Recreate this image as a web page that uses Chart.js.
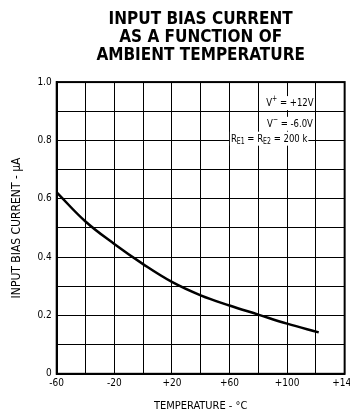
<!DOCTYPE html>
<html><head><meta charset="utf-8">
<script src="https://cdn.jsdelivr.net/npm/chart.js@4/dist/chart.umd.min.js"></script>
<style>html,body{margin:0;padding:0;background:#fff;overflow:hidden}#wrap{width:350px;height:410px;overflow:hidden}</style>
</head><body><div id="wrap"><canvas id="c" width="361" height="413"></canvas></div>
<script>
const temperatures = [-60, -40, -20, 0, 20, 40, 60, 80, 100, 122];
const biasCurrent = [0.622, 0.522, 0.445, 0.376, 0.315, 0.269, 0.234, 0.203, 0.172, 0.142];
const titleLines = ['INPUT BIAS CURRENT', 'AS A FUNCTION OF', 'AMBIENT TEMPERATURE'];
const xTitle = 'TEMPERATURE - °C';
const yTitle = 'INPUT BIAS CURRENT - µA';

const FONT = "'DejaVu Sans Condensed', 'DejaVu Sans', sans-serif";

const annot = {
  id: 'annot',
  beforeDatasetsDraw(chart) {
    const {ctx, scales:{x, y}} = chart;
    ctx.save();
    ctx.textBaseline = 'middle';
    const SX = 0.86;
    function seg(parts, cx, cy, align) {
      let w = 0;
      const widths = parts.map(p => { ctx.font = (p[1] ? "8px " : "11px ") + FONT; const m = ctx.measureText(p[0]).width * SX; w += m; return m; });
      let sx = align === 'left' ? cx : cx - w / 2;
      ctx.fillStyle = '#fff';
      ctx.fillRect(sx - 1, cy - 7, w + 2, 14);
      ctx.fillStyle = '#000';
      parts.forEach((p, i) => {
        ctx.font = (p[1] ? "8px " : "11px ") + FONT;
        const dy = p[1] === 'sup' ? -4 : (p[1] === 'sub' ? 3 : 0);
        ctx.save();
        ctx.translate(sx, cy + dy);
        ctx.scale(SX, 1);
        ctx.textAlign = 'left';
        ctx.fillText(p[0], 0, 0);
        ctx.restore();
        sx += widths[i];
      });
    }
    seg([['V',0],['+','sup'],[' = +12V',0]], x.getPixelForValue(102), y.getPixelForValue(0.928), 'c');
    seg([['V',0],['−','sup'],[' = -6.0V',0]], x.getPixelForValue(102), y.getPixelForValue(0.857), 'c');
    seg([['R',0],['E1','sub'],[' = R',0],['E2','sub'],[' = 200 k',0]], x.getPixelForValue(61), y.getPixelForValue(0.806), 'left');
    ctx.restore();
  },
  afterDraw(chart) {
    const {ctx, chartArea:a} = chart;
    ctx.save();
    ctx.strokeStyle = '#000';
    ctx.lineWidth = 2;
    ctx.strokeRect(a.left, a.top, a.right - a.left, a.bottom - a.top);
    ctx.restore();
  }
};

new Chart(document.getElementById('c'), {
  type: 'line',
  data: {
    datasets: [{
      data: temperatures.map((t, i) => ({x: t, y: biasCurrent[i]})),
      borderColor: '#000',
      borderWidth: 2.5,
      pointRadius: 0,
      tension: 0.4,
      fill: false
    }]
  },
  options: {
    responsive: false,
    animation: false,
    devicePixelRatio: 1,
    layout: {padding: {top: 4, right: 0, left: 10, bottom: 0}},
    plugins: {
      legend: {display: false},
      tooltip: {enabled: false},
      title: {
        display: true,
        text: titleLines,
        color: '#000',
        fullSize: false,
        font: {family: FONT, size: 17, weight: 'bold', lineHeight: 1.08},
        padding: {top: 6, bottom: 17}
      }
    },
    scales: {
      x: {
        type: 'linear', min: -60, max: 140,
        ticks: {stepSize: 20, autoSkip: false, maxRotation: 0, color: '#000', padding: 4,
          font: {family: FONT, size: 10},
          callback: v => ((v + 60) % 40 !== 0) ? '' : (v > 0 ? '+' + v : String(v))},
        grid: {color: '#000', lineWidth: 1, drawTicks: false},
        border: {display: true, color: '#000', width: 2},
        title: {display: true, text: xTitle, color: '#000', font: {family: FONT, size: 11}, padding: {top: 6, bottom: 0}}
      },
      y: {
        min: 0, max: 1,
        ticks: {stepSize: 0.1, autoSkip: false, color: '#000', padding: 5,
          font: {family: FONT, size: 10},
          callback: v => { const r = Math.round(v * 10); if (r % 2) return ''; return r === 0 ? '0' : (r / 10).toFixed(1); }},
        grid: {color: '#000', lineWidth: 1, drawTicks: false},
        border: {display: true, color: '#000', width: 2},
        title: {display: true, text: yTitle, color: '#000', font: {family: FONT, size: 12}, padding: {top: 0, bottom: 8}}
      }
    }
  },
  plugins: [annot]
});
</script></body></html>
